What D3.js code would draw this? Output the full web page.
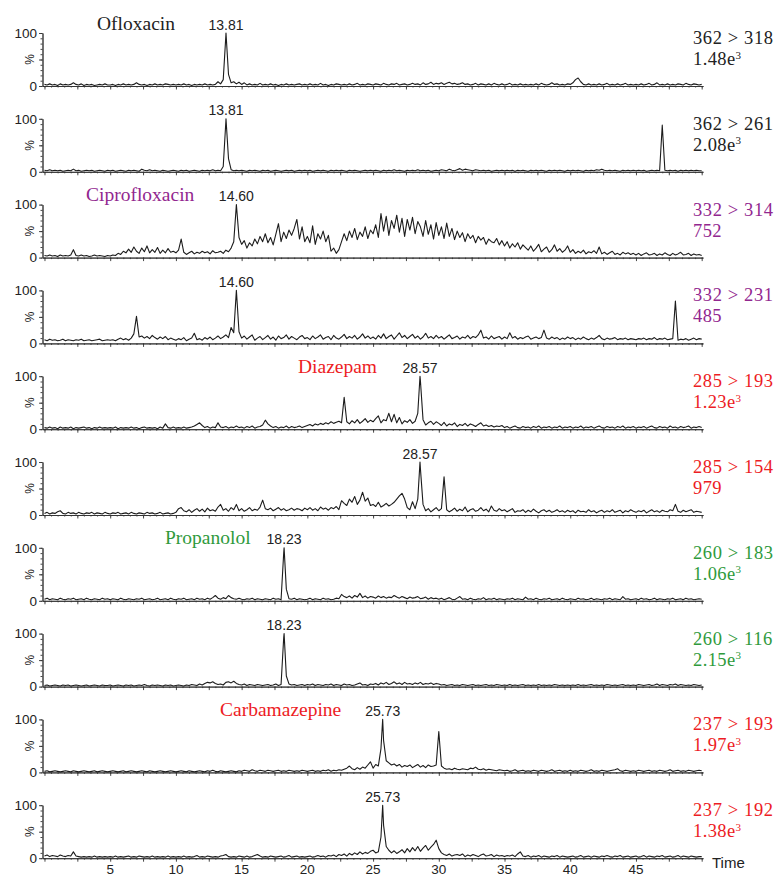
<!DOCTYPE html>
<html>
<head>
<meta charset="utf-8">
<script src="https://cdn.jsdelivr.net/npm/d3@7"></script>
<style>
  html, body { margin: 0; padding: 0; background: #fff; }
  svg { display: block; }
</style>
</head>
<body>
<svg id="chart" width="774" height="876"></svg>
<script>
// MRM chromatograms, relative intensity (%) sampled every 0.2 min from 0 to 50 min.
const sampleStep = 0.2;

const ofl318 = [
  3,2,4,2,3,1,4,2,3,2,3,6,3,2,4,1,3,2,3,1,2,3,2,4,2,
  2,3,1,3,2,4,2,3,2,3,6,3,2,3,1,3,2,4,2,3,2,4,3,2,3,
  2,3,2,4,2,3,1,3,2,3,2,4,2,3,2,3,8,4,12,95,22,6,8,4,7,
  3,6,2,4,2,3,2,5,2,3,2,4,2,3,1,3,2,4,2,3,2,3,4,2,3,
  2,4,2,3,2,5,2,3,1,3,2,4,3,2,3,2,4,2,3,5,2,3,2,4,3,
  2,4,3,2,5,3,2,4,3,5,2,3,4,2,3,5,3,4,2,6,3,4,7,3,5,
  4,6,3,5,7,4,5,3,4,6,3,4,2,3,5,2,4,3,2,4,2,5,3,2,4,
  2,3,5,2,3,2,4,2,3,2,3,2,4,2,5,3,2,3,6,3,4,2,3,2,4,
  3,6,12,15,8,3,2,4,2,3,2,4,2,3,5,2,3,2,4,2,3,5,2,3,2,
  3,2,4,2,3,5,2,3,6,2,3,2,4,2,3,2,4,3,2,5,3,2,4,3,2,
  3
];
const ofl261 = [
  3,2,4,2,3,2,3,1,2,3,2,5,2,3,1,2,3,2,3,1,2,3,2,1,3,
  2,3,1,2,3,2,1,3,2,3,2,1,5,3,2,4,2,3,2,1,3,2,1,2,3,
  2,1,3,2,3,1,2,3,2,1,3,2,3,2,4,2,3,2,10,95,25,4,2,3,2,
  3,2,1,3,2,3,2,1,3,2,3,1,2,3,2,1,2,3,2,3,1,2,3,2,3,
  2,3,1,2,3,2,3,2,1,3,2,3,2,3,2,1,3,2,3,2,1,2,3,2,3,
  2,3,2,1,3,2,3,2,4,2,3,2,1,3,2,3,2,4,2,3,2,3,1,2,3,
  2,4,3,2,5,3,2,4,6,3,5,4,3,2,4,3,2,3,2,3,1,2,3,2,3,
  2,3,2,3,1,3,2,3,2,1,3,2,3,2,3,2,1,3,2,3,2,3,2,1,3,
  2,3,2,3,2,1,3,2,3,2,4,3,5,3,2,3,2,3,2,1,3,2,3,2,3,
  2,3,2,3,1,2,3,2,3,2,88,3,2,3,2,3,1,3,2,3,2,3,2,3,2,
  2
];
const cip314 = [
  4,3,5,3,4,2,5,3,4,3,5,15,4,3,5,3,4,2,3,5,3,4,3,2,4,
  3,5,4,8,6,12,9,16,10,20,12,8,18,11,22,9,15,10,19,8,14,9,17,10,12,
  9,14,35,10,6,9,12,7,10,8,12,9,11,7,13,9,10,12,8,14,11,18,30,100,38,
  25,32,18,28,22,35,26,40,30,45,28,38,24,44,64,30,48,36,52,42,55,72,35,58,30,
  40,28,60,25,45,35,50,30,42,12,18,8,15,30,45,32,50,38,55,34,48,40,58,36,52,
  45,62,38,83,50,78,42,70,55,80,48,74,40,72,52,76,45,68,58,40,70,44,62,35,66,
  42,58,36,65,40,55,34,50,38,47,30,45,36,42,28,40,33,38,25,35,30,28,36,24,32,
  22,30,18,26,20,28,16,24,19,14,22,12,18,25,11,16,20,10,15,24,12,17,10,14,22,
  10,15,8,12,9,14,7,11,9,13,8,20,7,10,6,9,12,6,8,5,10,7,9,6,8,
  5,8,4,7,9,5,6,8,4,7,5,9,6,4,8,5,7,10,5,6,8,4,7,5,6,
  4
];
const cip231 = [
  7,5,8,6,7,5,6,8,5,7,6,5,7,6,8,5,6,7,5,6,7,8,5,6,7,
  6,7,5,8,10,7,9,6,10,18,51,12,14,10,13,9,15,11,8,12,9,13,7,10,8,
  6,9,7,11,5,8,10,19,7,9,6,11,8,12,7,10,14,9,12,16,11,30,20,100,22,
  10,14,8,12,16,6,10,13,7,11,15,8,12,6,14,9,11,16,8,13,10,7,12,15,9,
  11,7,14,9,12,16,8,11,13,7,15,10,8,12,17,9,13,10,15,8,12,18,10,14,9,
  12,8,15,10,18,9,13,16,8,14,20,11,15,9,13,17,10,14,8,12,19,10,13,9,15,
  10,13,8,12,16,9,11,14,8,12,10,15,9,13,11,16,25,10,12,8,14,9,11,13,8,
  12,9,20,10,13,8,11,9,12,14,8,10,12,9,11,25,10,8,12,9,11,7,10,8,12,
  9,11,7,10,8,12,9,7,10,8,11,15,9,7,10,8,9,11,7,9,8,10,7,9,8,
  7,9,8,10,7,9,8,11,7,9,8,10,7,8,9,80,6,8,7,9,6,8,10,7,9,
  8
];
const dia193 = [
  3,2,4,2,3,1,4,2,3,2,4,1,3,2,3,4,2,3,1,3,2,4,2,3,2,
  3,2,4,1,3,2,3,2,4,2,3,1,3,4,2,3,2,3,1,4,2,10,3,2,4,
  2,3,2,4,2,3,4,6,9,12,7,3,5,2,4,3,12,4,3,5,2,4,3,6,3,
  4,2,5,3,6,2,4,5,8,17,10,6,3,5,2,4,3,6,2,5,3,4,6,3,5,
  7,9,6,10,8,11,9,12,10,14,11,13,15,12,60,14,10,16,12,18,11,15,20,13,17,
  14,20,25,12,18,16,30,14,28,12,22,10,16,13,18,11,15,30,92,18,8,12,15,9,14,
  11,7,13,6,10,8,12,5,9,7,11,6,10,8,5,9,12,6,8,5,7,4,6,5,7,
  3,5,2,4,6,3,2,5,3,4,2,5,3,6,2,4,3,5,2,4,3,6,2,4,3,
  5,2,4,3,6,2,4,3,5,2,4,6,3,2,5,3,4,2,5,3,6,2,4,3,5,
  2,4,3,5,2,4,6,3,2,5,3,4,2,6,3,4,2,5,3,4,6,2,4,3,5,
  3
];
const dia154 = [
  3,5,2,4,3,6,8,3,2,5,3,4,2,5,3,2,4,3,5,2,4,3,2,5,3,
  2,4,3,5,2,3,4,2,5,3,2,4,3,2,5,3,4,2,3,5,2,3,4,2,3,
  5,12,14,8,6,10,5,9,12,7,11,6,13,8,10,7,15,20,9,12,7,14,10,20,8,
  12,7,10,14,8,11,9,15,28,12,10,13,8,11,14,9,12,8,10,13,9,12,11,8,13,
  10,14,9,12,8,15,11,13,9,14,12,16,10,27,22,18,30,24,35,20,28,43,26,32,18,
  20,16,24,15,18,22,17,20,24,30,36,41,30,14,10,25,12,30,88,20,8,12,6,10,14,
  8,12,72,10,6,9,13,7,11,8,15,6,10,12,7,9,14,8,11,6,17,9,7,12,8,
  10,6,9,12,5,8,7,10,5,9,6,11,7,4,8,10,6,9,5,7,10,6,8,5,9,
  6,8,4,9,6,7,5,10,6,8,4,7,9,5,8,6,10,5,7,9,4,8,6,10,7,
  5,8,6,9,4,7,10,6,8,5,9,7,6,10,8,20,7,5,9,6,8,10,5,7,6,
  5
];
const pro183 = [
  3,5,2,4,3,2,5,3,2,4,3,5,2,3,4,2,5,3,2,4,3,2,5,3,4,
  2,4,3,2,5,3,2,4,3,2,4,3,5,2,3,4,2,3,5,2,3,4,2,5,3,
  2,4,3,5,2,3,4,2,5,3,4,2,5,3,6,10,5,3,6,4,10,6,4,3,5,
  3,2,4,3,5,2,4,3,2,4,3,2,5,3,4,2,90,22,4,3,5,2,4,3,2,
  3,5,2,4,3,2,5,3,4,2,3,5,4,12,8,6,9,5,10,7,14,6,9,5,8,
  7,5,9,6,8,5,7,6,10,7,5,8,6,4,7,5,6,8,4,5,7,3,6,4,5,
  3,5,2,4,6,3,2,5,8,3,4,2,5,3,2,4,3,6,2,4,3,5,2,4,3,
  2,4,3,5,2,4,3,2,7,3,4,2,5,3,2,4,3,5,2,3,4,2,5,3,2,
  4,3,2,5,3,4,2,3,5,2,4,3,2,4,3,5,2,4,3,2,8,3,4,2,3,
  4,2,5,3,4,2,3,5,2,4,3,2,4,3,5,2,3,4,2,5,3,4,2,3,4,
  3
];
const pro116 = [
  2,3,1,2,3,2,1,3,2,3,1,2,3,2,1,2,3,1,2,3,2,1,3,2,2,
  3,1,2,3,2,1,3,2,3,1,2,3,2,4,2,1,3,2,3,2,1,3,2,3,1,
  2,3,2,1,3,2,4,3,2,5,3,6,8,7,9,6,4,5,3,8,9,7,10,6,4,
  3,5,2,4,3,2,4,3,2,3,4,2,3,5,2,4,92,20,5,3,4,2,3,4,2,
  4,3,5,2,4,3,2,4,3,5,2,4,3,2,5,3,4,2,3,5,7,3,4,2,5,
  4,6,3,7,5,8,4,6,9,5,7,4,8,5,6,4,7,5,8,4,6,5,7,4,6,
  5,3,4,2,3,4,2,3,2,4,3,2,3,4,2,3,2,3,4,2,3,2,4,3,2,
  3,2,4,2,3,2,3,4,2,3,2,3,2,4,2,3,2,3,2,4,3,2,3,2,3,
  2,3,2,4,2,3,2,3,4,2,3,2,3,2,4,3,2,3,2,3,4,2,3,2,3,
  2,4,3,2,3,4,2,3,5,2,4,3,2,4,3,5,2,4,3,2,3,2,4,3,2,
  3
];
const car193 = [
  2,3,1,2,3,2,1,2,3,2,1,3,2,1,2,3,2,1,2,3,1,2,3,2,1,
  2,3,2,1,2,3,1,2,3,2,1,2,3,2,1,3,2,1,2,3,2,1,2,3,2,
  1,2,3,2,1,3,2,1,2,3,2,1,3,2,4,2,1,3,2,1,2,3,2,1,3,
  2,4,3,2,5,3,2,4,3,2,4,3,2,3,4,2,3,2,4,3,2,3,2,4,3,
  2,3,4,2,3,2,4,3,5,2,4,3,5,4,6,8,12,7,5,9,6,10,8,14,20,
  8,15,12,45,60,22,18,14,16,12,15,10,13,11,14,9,12,15,10,13,9,14,11,12,14,
  77,12,8,6,7,5,8,6,5,7,6,5,8,7,10,6,5,7,4,6,5,4,3,5,4,
  3,4,2,3,5,2,3,4,2,3,2,4,3,2,4,3,2,3,5,2,3,4,2,3,2,
  4,2,3,2,4,3,2,3,5,2,3,2,4,3,2,3,4,5,7,3,2,4,3,2,3,
  2,4,3,2,3,4,2,3,2,4,3,2,3,5,2,3,4,2,3,2,4,3,2,3,4,
  3
];
const car192 = [
  4,6,3,5,4,3,6,4,3,5,4,12,4,3,2,3,2,3,2,4,2,3,2,3,2,
  3,2,4,2,3,2,3,4,2,3,2,4,3,2,3,2,4,2,3,2,3,2,4,2,3,
  2,3,2,4,2,3,2,3,5,2,3,2,4,3,2,3,2,4,5,7,3,2,3,2,4,
  3,2,4,2,3,5,7,4,2,3,2,4,3,2,3,4,2,3,5,2,3,4,2,3,2,
  3,4,2,3,5,3,4,2,5,4,6,3,7,5,8,4,9,6,10,7,12,8,11,9,13,
  15,10,12,40,62,22,15,10,14,9,12,16,10,18,12,20,14,22,13,19,24,15,21,26,34,
  18,10,7,5,8,4,6,7,5,8,3,6,4,7,5,3,6,8,4,5,7,3,6,4,5,
  3,5,4,6,3,8,12,4,3,5,2,4,3,5,2,4,3,2,4,3,5,2,4,3,2,
  3,4,2,3,5,2,3,4,2,4,3,2,4,3,5,3,2,4,3,5,2,3,4,2,3,
  4,2,3,5,2,4,3,2,4,3,5,2,3,4,2,3,5,2,4,3,2,4,3,2,3,
  3
];

// Apex retention time (min) of the labelled peak in each trace; apex = 100 %.
const peakTimes = [13.81, 13.81, 14.60, 14.60, 28.57, 28.57, 18.23, 18.23, 25.73, 25.73];
const transitions = ["362 > 318", "362 > 261", "332 > 314", "332 > 231", "285 > 193",
                     "285 > 154", "260 > 183", "260 > 116", "237 > 193", "237 > 192"];
const intensities = ["1.48e3", "2.08e3", "752", "485", "1.23e3",
                     "979", "1.06e3", "2.15e3", "1.97e3", "1.38e3"];
const compoundNames = ["Ofloxacin", "Ciprofloxacin", "Diazepam", "Propanolol", "Carbamazepine"];
const timeTickLabels = [5, 10, 15, 20, 25, 30, 35, 40, 45];

const traces = [ofl318, ofl261, cip314, cip231, dia193, dia154, pro183, pro116, car193, car192];

// ---- layout & styling ----
const compoundColors = ["#222222", "#92278f", "#ed1c24", "#2f9a3c", "#ed1c24"];
const compoundNameX = [97, 86, 298, 165, 220];
const serif = "'Liberation Serif', 'Times New Roman', serif";
const sans = "'Liberation Sans', Arial, sans-serif";

const svg = d3.select("#chart");
const x = d3.scaleLinear().domain([-0.15, 50.1]).range([42.5, 703]);
const firstBase = 86, panelGap = 85.8, panelH = 53;

traces.forEach((vals, k) => {
  const base = firstBase + k * panelGap;
  const top = base - panelH;
  const y = d3.scaleLinear().domain([0, 100]).range([base, top]);
  const color = compoundColors[Math.floor(k / 2)];
  const g = svg.append("g");

  // time axis along the baseline
  const xMinor = d3.axisBottom(x).tickValues(d3.range(0, 50.01, 0.5))
    .tickSize(1.5).tickSizeOuter(0).tickFormat("");
  const xMajor = d3.axisBottom(x).tickValues(d3.range(0, 50.01, 2.5))
    .tickSize(3.5).tickSizeOuter(0).tickFormat("");
  [xMinor, xMajor].forEach(ax => {
    const a = g.append("g").attr("transform", `translate(0,${base})`).call(ax);
    a.selectAll("path,line").attr("stroke", "#333").attr("stroke-width", 0.9);
  });

  // intensity axis
  const yMinor = d3.axisLeft(y).tickValues(d3.range(0, 101, 10)).tickSize(2)
    .tickSizeOuter(0).tickFormat("");
  const yMajor = d3.axisLeft(y).tickValues([0, 50, 100]).tickSize(3.5)
    .tickSizeOuter(0).tickPadding(2)
    .tickFormat(d => (d === 50 ? "" : d));
  [yMinor, yMajor].forEach(ax => {
    const a = g.append("g").attr("transform", `translate(${x.range()[0]},0)`).call(ax);
    a.selectAll("path,line").attr("stroke", "#333").attr("stroke-width", 0.9);
    a.selectAll("text").attr("font-family", sans).attr("font-size", 13.5)
      .attr("fill", "#222");
  });
  g.append("text")
    .attr("transform", `translate(30,${(base + top) / 2}) rotate(-90)`)
    .attr("text-anchor", "middle").attr("dy", "0.35em")
    .attr("font-family", sans).attr("font-size", 12).attr("fill", "#222")
    .text("%");

  // trace: sampled points plus the labelled apex
  const pts = vals.map((v, i) => ({ t: i * sampleStep, v }));
  pts.push({ t: peakTimes[k], v: 100 });
  pts.sort((a, b) => a.t - b.t);
  g.append("path")
    .datum(pts)
    .attr("fill", "none")
    .attr("stroke", "#1c1c1c")
    .attr("stroke-width", 1.1)
    .attr("stroke-linejoin", "round")
    .attr("d", d3.line().x(d => x(d.t)).y(d => y(d.v)));

  // apex retention time
  g.append("text")
    .attr("x", x(peakTimes[k])).attr("y", top - 3.5)
    .attr("text-anchor", "middle")
    .attr("font-family", sans).attr("font-size", 14).attr("fill", "#222")
    .text(peakTimes[k].toFixed(2));

  // compound name over the first trace of each pair
  if (k % 2 === 0) {
    g.append("text")
      .attr("x", compoundNameX[k / 2]).attr("y", top - 3.5)
      .attr("font-family", serif).attr("font-size", 19.5).attr("fill", color)
      .text(compoundNames[k / 2]);
  }

  // transition and base-peak intensity
  g.append("text")
    .attr("x", 693).attr("y", base - 42)
    .attr("font-family", serif).attr("font-size", 18.5)
    .attr("letter-spacing", 0.6).attr("fill", color)
    .text(transitions[k]);
  const [mant, expo] = intensities[k].split("e");
  const it = g.append("text")
    .attr("x", 693).attr("y", base - 21)
    .attr("font-family", serif).attr("font-size", 18.5)
    .attr("letter-spacing", 0.4).attr("fill", color);
  if (expo !== undefined) {
    it.append("tspan").text(mant + "e");
    it.append("tspan").attr("font-size", 11).attr("dy", -6.5).text(expo);
  } else {
    it.text(mant);
  }

  // time labels under the last trace
  if (k === traces.length - 1) {
    g.selectAll("text.tl").data(timeTickLabels).join("text")
      .attr("class", "tl")
      .attr("x", d => x(d)).attr("y", base + 16)
      .attr("text-anchor", "middle")
      .attr("font-family", sans).attr("font-size", 13.5).attr("fill", "#222")
      .text(d => d);
    g.append("text")
      .attr("x", 712).attr("y", base + 10)
      .attr("font-family", sans).attr("font-size", 15).attr("fill", "#222")
      .text("Time");
  }
});
</script>
</body>
</html>
